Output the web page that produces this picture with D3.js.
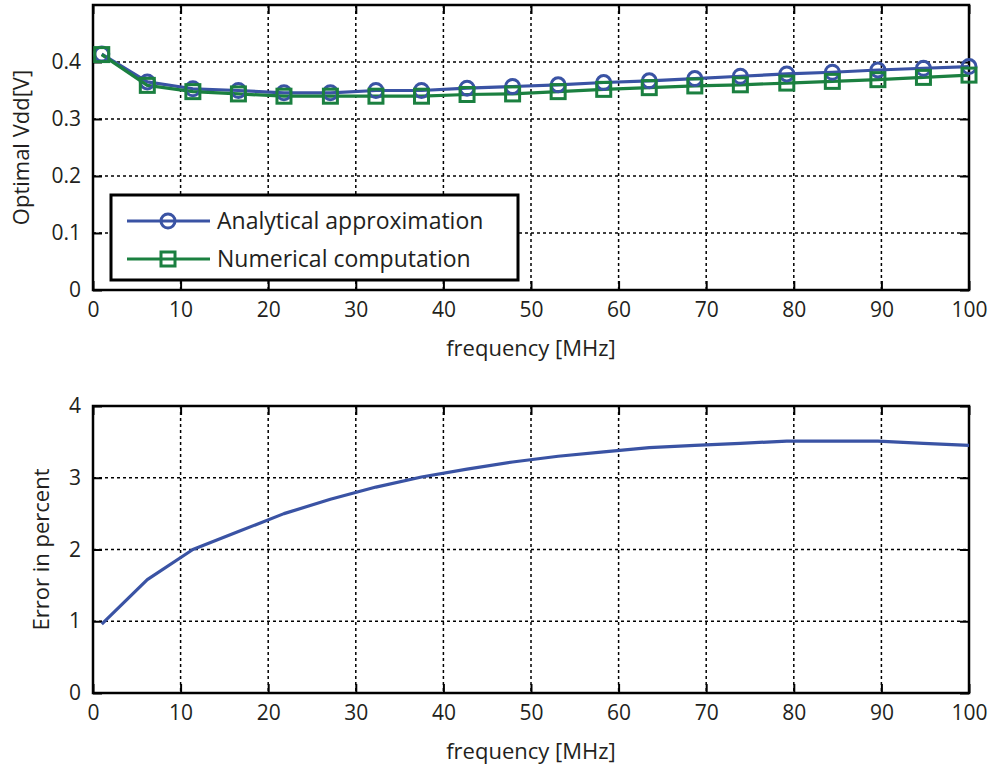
<!DOCTYPE html>
<html><head><meta charset="utf-8">
<script src="https://cdn.jsdelivr.net/npm/d3@7"></script>
<style>
body{margin:0;background:#fff;}
svg{display:block;font-family:"Open Sans",sans-serif;}
</style></head>
<body><svg id="c" width="995" height="771"></svg>
<script>
const freq = [1, 6.2, 11.4, 16.6, 21.8, 27.1, 32.3, 37.5, 42.7, 47.9, 53.1, 58.3, 63.5, 68.7, 73.9, 79.2, 84.4, 89.6, 94.8, 100];
const analytical = [0.414, 0.365, 0.353, 0.350, 0.346, 0.346, 0.350, 0.350, 0.354, 0.357, 0.360, 0.364, 0.367, 0.371, 0.375, 0.379, 0.382, 0.386, 0.389, 0.392];
const numerical  = [0.413, 0.359, 0.348, 0.344, 0.340, 0.340, 0.340, 0.340, 0.343, 0.344, 0.348, 0.352, 0.355, 0.358, 0.360, 0.363, 0.366, 0.369, 0.373, 0.377];
const errorPct   = [0.96, 1.58, 2.0, 2.25, 2.50, 2.70, 2.87, 3.01, 3.12, 3.22, 3.30, 3.36, 3.42, 3.45, 3.48, 3.51, 3.51, 3.51, 3.48, 3.45];
const xTicks = [0,10,20,30,40,50,60,70,80,90,100];
const yTicksTop = [0,0.1,0.2,0.3,0.4];
const yTicksBot = [0,1,2,3,4];
const seriesNames = ["Analytical approximation","Numerical computation"];
const colors = ["#3a53a4","#1b8040"];
const ink = "#231f20";

const svg = d3.select("#c");
const L = 93, R = 969;
const x = d3.scaleLinear().domain([0,100]).range([L,R]);

function panel(top, bottom, yDomain, yTicks, yFmt, ylabel, ylabelX){
  const y = d3.scaleLinear().domain(yDomain).range([bottom, top]);
  const g = svg.append("g");
  g.selectAll(".vg").data(xTicks.filter(t=>t>0&&t<100)).join("line")
    .attr("x1",d=>x(d)).attr("x2",d=>x(d)).attr("y1",top).attr("y2",bottom)
    .attr("stroke","#000").attr("stroke-width",1.5).attr("stroke-dasharray","3,3");
  g.selectAll(".hg").data(yTicks.filter(t=>t>yDomain[0]&&t<yDomain[1])).join("line")
    .attr("x1",L).attr("x2",R).attr("y1",d=>y(d)).attr("y2",d=>y(d))
    .attr("stroke","#000").attr("stroke-width",1.5).attr("stroke-dasharray","3,3");
  const ax = g.append("g");
  ax.append("g").attr("transform",`translate(0,${bottom})`)
    .call(d3.axisBottom(x).tickValues(xTicks).tickSize(-9).tickPadding(12).tickFormat(d3.format("d")));
  ax.append("g").attr("transform",`translate(0,${top})`)
    .call(d3.axisTop(x).tickValues(xTicks).tickSize(-9).tickFormat(""));
  ax.append("g").attr("transform",`translate(${L},0)`)
    .call(d3.axisLeft(y).tickValues(yTicks).tickSize(-9).tickPadding(12).tickFormat(yFmt));
  ax.append("g").attr("transform",`translate(${R},0)`)
    .call(d3.axisRight(y).tickValues(yTicks).tickSize(-9).tickFormat(""));
  ax.selectAll(".domain").remove();
  ax.selectAll(".tick line").attr("stroke","#000").attr("stroke-width",2);
  ax.selectAll(".tick text").attr("font-size",21).attr("fill",ink).attr("font-family","Open Sans");
  g.append("rect").attr("x",L).attr("y",top).attr("width",R-L).attr("height",bottom-top)
    .attr("fill","none").attr("stroke","#000").attr("stroke-width",2.5);
  g.append("text").attr("x",(L+R)/2).attr("y",bottom+66).attr("text-anchor","middle")
    .attr("font-size",22).attr("fill",ink).text("frequency [MHz]");
  g.append("text").attr("transform",`translate(${ylabelX},${(top+bottom)/2}) rotate(-90)`)
    .attr("text-anchor","middle").attr("font-size",22).attr("fill",ink).text(ylabel);
  return y;
}

// Top panel
const yT = panel(5, 290, [0,0.5], yTicksTop, d=>d===0?"0":d3.format(".1f")(d), "Optimal Vdd[V]", 29);
const line = d3.line().x((d,i)=>x(freq[i])).y(d=>yT(d));
const gt = svg.append("g");
[analytical, numerical].forEach((s,k)=>{
  gt.append("path").datum(s).attr("d",line).attr("fill","none")
    .attr("stroke",colors[k]).attr("stroke-width",3.2).attr("stroke-linejoin","round");
});
gt.selectAll(".mc").data(analytical).join("circle")
  .attr("cx",(d,i)=>x(freq[i])).attr("cy",d=>yT(d)).attr("r",7)
  .attr("fill","none").attr("stroke",colors[0]).attr("stroke-width",3);
gt.selectAll(".ms").data(numerical).join("rect")
  .attr("x",(d,i)=>x(freq[i])-7).attr("y",d=>yT(d)-7).attr("width",14).attr("height",14)
  .attr("fill","none").attr("stroke",colors[1]).attr("stroke-width",3);

// Legend
const lg = svg.append("g");
lg.append("rect").attr("x",111).attr("y",195).attr("width",407).attr("height",85)
  .attr("fill","#fff").attr("stroke","#000").attr("stroke-width",3);
seriesNames.forEach((n,k)=>{
  const yy = 221 + k*38;
  lg.append("line").attr("x1",127).attr("x2",210).attr("y1",yy).attr("y2",yy)
    .attr("stroke",colors[k]).attr("stroke-width",3.2);
  if(k===0) lg.append("circle").attr("cx",168).attr("cy",yy).attr("r",7)
    .attr("fill","none").attr("stroke",colors[k]).attr("stroke-width",3);
  else lg.append("rect").attr("x",161).attr("y",yy-7).attr("width",14).attr("height",14)
    .attr("fill","none").attr("stroke",colors[k]).attr("stroke-width",3);
  lg.append("text").attr("x",217).attr("y",yy+8).attr("font-size",23).attr("fill",ink).text(n);
});

// Bottom panel
const yB = panel(406, 693, [0,4], yTicksBot, d3.format("d"), "Error in percent", 49);
svg.append("path").datum(errorPct)
  .attr("d", d3.line().x((d,i)=>x(freq[i])).y(d=>yB(d)))
  .attr("fill","none").attr("stroke",colors[0]).attr("stroke-width",3.2).attr("stroke-linejoin","round");
</script></body></html>
